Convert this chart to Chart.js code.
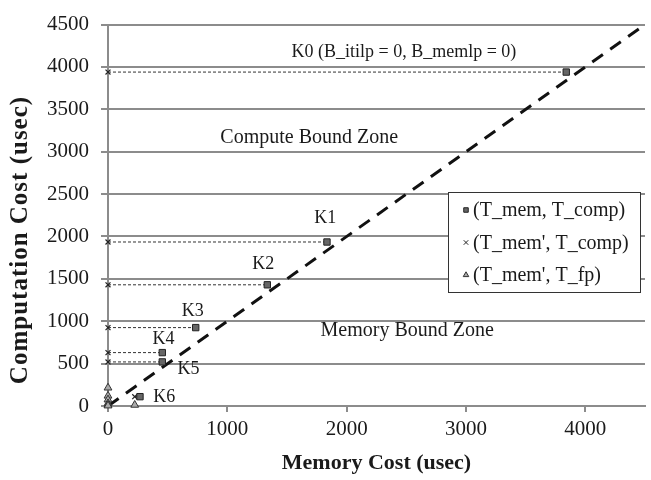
<!DOCTYPE html>
<html>
<head>
<meta charset="utf-8">
<script src="https://cdn.jsdelivr.net/npm/chart.js@4/dist/chart.umd.min.js"></script>
<style>
  html, body { margin: 0; padding: 0; background: #fff; }
  #wrap { width: 651px; height: 480px; }
</style>
</head>
<body>
<div id="wrap"><canvas id="c" width="651" height="480"></canvas></div>
<script>
// Kernel names and their costs in microseconds
const kernelNames = ['K0 (B_itilp = 0, B_memlp = 0)', 'K1', 'K2', 'K3', 'K4', 'K5', 'K6'];
const tMem      = [3840, 1835, 1335, 735, 455, 455, 268];
const tComp     = [3940, 1935, 1430, 925, 630, 520, 110];
const tMemPrime = [0, 0, 0, 0, 0, 0, 224];
const tFp       = [215, 120, 75, 30, 12, 4, 12];

// Where each kernel name is written (data coordinates)
const nameAtX = [2480, 1820, 1300, 710, 466, 675, 472];
const nameAtY = [4177, 2213, 1671, 1117, 784, 429, 103];

// Zone captions
const zoneNames = ['Compute Bound Zone', 'Memory Bound Zone'];
const zoneAtX = [1686, 2507];
const zoneAtY = [3162, 891];

// Axis ticks and the balance line (T_mem = T_comp)
const xTicks = [0, 1000, 2000, 3000, 4000];
const yTicks = [0, 500, 1000, 1500, 2000, 2500, 3000, 3500, 4000, 4500];
const balance = [0, 4500];

const seriesNames = ['(T_mem, T_comp)', "(T_mem', T_comp)", "(T_mem', T_fp)"];

const SERIF = "'Liberation Serif', 'Times New Roman', serif";
const GRID = '#8c8c8c';
const INK = '#1a1a1a';

const datasets = [];

// balance diagonal
datasets.push({
  label: 'balance',
  data: balance.map(v => ({ x: v, y: v })),
  showLine: true,
  borderColor: '#111',
  borderWidth: 3,
  borderDash: [13, 9],
  pointRadius: 0,
  order: 5,
  clip: false
});

// dotted connectors from (T_mem', T_comp) to (T_mem, T_comp)
tMem.forEach((m, i) => {
  datasets.push({
    label: 'link' + i,
    data: [{ x: tMemPrime[i], y: tComp[i] }, { x: m, y: tComp[i] }],
    showLine: true,
    borderColor: '#333',
    borderWidth: 1,
    borderDash: [3, 2],
    pointRadius: 0,
    order: 4
  });
});

datasets.push({
  label: seriesNames[0],
  data: tMem.map((m, i) => ({ x: m, y: tComp[i] })),
  pointStyle: 'rect',
  pointRadius: 4.5,
  backgroundColor: '#666',
  borderColor: '#222',
  borderWidth: 1,
  showLine: false,
  order: 1,
  clip: false
});
datasets.push({
  label: seriesNames[1],
  data: tMemPrime.map((m, i) => ({ x: m, y: tComp[i] })),
  pointStyle: 'crossRot',
  pointRadius: 3.5,
  borderColor: '#222',
  borderWidth: 1.2,
  showLine: false,
  order: 2,
  clip: false
});
datasets.push({
  label: seriesNames[2],
  data: tMemPrime.map((m, i) => ({ x: m, y: tFp[i] })),
  pointStyle: 'triangle',
  pointRadius: 4.5,
  backgroundColor: '#aaa',
  borderColor: '#333',
  borderWidth: 1,
  showLine: false,
  order: 3,
  clip: false
});

// Text annotations, axis titles and the legend box
const decorations = {
  id: 'decorations',
  afterDatasetsDraw(chart) {
    const ctx = chart.ctx;
    const xs = chart.scales.x, ys = chart.scales.y;
    ctx.save();
    ctx.fillStyle = INK;
    ctx.textAlign = 'center';
    ctx.textBaseline = 'middle';
    ctx.font = '18px ' + SERIF;
    kernelNames.forEach((n, i) => {
      ctx.fillText(n, xs.getPixelForValue(nameAtX[i]), ys.getPixelForValue(nameAtY[i]));
    });
    ctx.font = '20px ' + SERIF;
    zoneNames.forEach((n, i) => {
      ctx.fillText(n, xs.getPixelForValue(zoneAtX[i]), ys.getPixelForValue(zoneAtY[i]));
    });

    // axis titles
    const area = chart.chartArea;
    ctx.font = 'bold 22px ' + SERIF;
    ctx.fillText('Memory Cost (usec)', (area.left + area.right) / 2, 463);
    ctx.save();
    ctx.font = 'bold 25px ' + SERIF;
    ctx.letterSpacing = '1px';
    ctx.translate(21, 240);
    ctx.rotate(-Math.PI / 2);
    ctx.fillText('Computation Cost (usec)', 0, 0);
    ctx.restore();

    // legend
    const bx = 448, by = 192, bw = 192, bh = 100;
    ctx.fillStyle = '#fff';
    ctx.fillRect(bx, by, bw, bh);
    ctx.strokeStyle = '#333';
    ctx.lineWidth = 1;
    ctx.strokeRect(bx + 0.5, by + 0.5, bw, bh);
    const pts = chart.data.datasets.filter(d => seriesNames.includes(d.label));
    ctx.font = '20px ' + SERIF;
    ctx.textAlign = 'left';
    pts.forEach((d, i) => {
      const y = by + 18 + i * 32.5;
      ctx.fillStyle = d.backgroundColor || '#666';
      ctx.strokeStyle = d.borderColor;
      ctx.lineWidth = 1;
      Chart.helpers.drawPoint(ctx, { pointStyle: d.pointStyle, radius: 3.2, rotation: 0, borderWidth: 1 }, bx + 18, y);
      ctx.fillStyle = INK;
      ctx.fillText(d.label, bx + 25, y + 1);
    });
    ctx.restore();
  }
};

const plain = v => String(v);

new Chart(document.getElementById('c'), {
  type: 'scatter',
  data: { datasets },
  options: {
    responsive: false,
    animation: false,
    events: [],
    layout: { padding: { left: 0, top: 13, right: 6, bottom: 0 } },
    plugins: { legend: { display: false }, tooltip: { enabled: false } },
    scales: {
      x: {
        type: 'linear', min: 0, max: 4500,
        afterBuildTicks: s => { s.ticks = xTicks.map(v => ({ value: v })); },
        afterFit: s => { s.height = 74; },
        grid: { drawOnChartArea: false, drawTicks: true, tickLength: 6, color: GRID, lineWidth: 2 },
        border: { color: GRID, width: 2 },
        ticks: { color: INK, font: { family: SERIF, size: 21 }, padding: 5, maxRotation: 0, autoSkip: false, callback: plain }
      },
      y: {
        type: 'linear', min: 0, max: 4500,
        afterBuildTicks: s => { s.ticks = yTicks.map(v => ({ value: v })); },
        afterFit: s => { s.width = 108; },
        grid: { color: GRID, lineWidth: 2, tickLength: 7 },
        border: { color: GRID, width: 2 },
        ticks: { color: INK, font: { family: SERIF, size: 21 }, padding: 12, autoSkip: false, callback: plain }
      }
    }
  },
  plugins: [decorations]
});
</script>
</body>
</html>
